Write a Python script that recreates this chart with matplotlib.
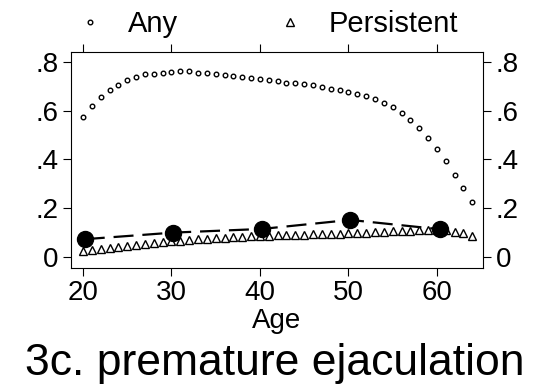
"""
3c. premature ejaculation : Any / Persistent by age, with 10-year group points.
"""
import numpy as np
import matplotlib
matplotlib.use("Agg")
import matplotlib.pyplot as plt
from matplotlib.lines import Line2D

plt.rcParams["font.family"] = ["Liberation Sans", "DejaVu Sans"]

ages = list(range(20, 65))
any_vals = [0.573, 0.618, 0.656, 0.684, 0.707, 0.725, 0.738, 0.749, 0.752, 0.756,
            0.759, 0.762, 0.762, 0.756, 0.756, 0.752, 0.748, 0.743, 0.737, 0.733,
            0.729, 0.725, 0.721, 0.715, 0.715, 0.711, 0.707, 0.696, 0.691, 0.687,
            0.678, 0.670, 0.661, 0.647, 0.633, 0.614, 0.592, 0.561, 0.528, 0.487,
            0.442, 0.393, 0.336, 0.283, 0.227]
persist_vals = [0.025, 0.028, 0.033, 0.037, 0.041, 0.045, 0.049, 0.053, 0.057, 0.061,
                0.064, 0.067, 0.070, 0.073, 0.075, 0.077, 0.079, 0.081, 0.083, 0.085,
                0.087, 0.088, 0.089, 0.090, 0.091, 0.092, 0.093, 0.094, 0.095, 0.096,
                0.097, 0.098, 0.099, 0.101, 0.103, 0.105, 0.107, 0.108, 0.109, 0.110,
                0.110, 0.109, 0.104, 0.097, 0.087]
group_ages = [20.2, 30.2, 40.2, 50.2, 60.3]
group_vals = [0.073, 0.100, 0.115, 0.152, 0.114]

xticks = [20, 30, 40, 50, 60]
yticks = [0, 0.2, 0.4, 0.6, 0.8]
ytick_labels = ["0", ".2", ".4", ".6", ".8"]

fig = plt.figure(figsize=(5.5, 3.85), dpi=100)
ax = fig.add_axes([0.129, 0.304, 0.749, 0.561])

ax.plot(group_ages, group_vals, color="black", lw=1.6, dashes=(9, 4), zorder=2)
ax.plot(group_ages, group_vals, "o", color="black", ms=11.5, zorder=4)
ax.plot(ages, persist_vals, "^", mfc="white", mec="black", mew=1.0, ms=5.5,
        ls="none", zorder=3)
ax.plot(ages, any_vals, "o", mfc="white", mec="black", mew=1.0, ms=3.3,
        ls="none", zorder=3)

ax.set_xlim(18.64, 65.2)
ax.set_ylim(-0.045, 0.841)
ax.set_xticks(xticks)
ax.set_yticks(yticks)
ax.set_yticklabels(ytick_labels)
ax.tick_params(axis="both", direction="out", length=6, width=0.8,
               labelsize=20, top=True, right=True, labelright=True, pad=3)
for s in ax.spines.values():
    s.set_linewidth(0.8)

ax.set_xlabel("Age", fontsize=20, labelpad=1)

handles = [Line2D([], [], marker="o", ls="none", mfc="white", mec="black", mew=1.0, ms=3.3),
           Line2D([], [], marker="^", ls="none", mfc="white", mec="black", mew=1.0, ms=5.5)]
fig.legend(handles, ["Any", "Persistent"], loc="center left", ncol=2, frameon=False,
           bbox_to_anchor=(75.5 / 550, 1 - 24 / 385), fontsize=21, handlelength=1.0,
           handletextpad=0.81, columnspacing=3.33, borderpad=0, borderaxespad=0)

fig.text(0.5, 1 - 364 / 385, "3c. premature ejaculation", ha="center", va="center",
         fontsize=32)

fig.savefig("out.png", dpi=100)
